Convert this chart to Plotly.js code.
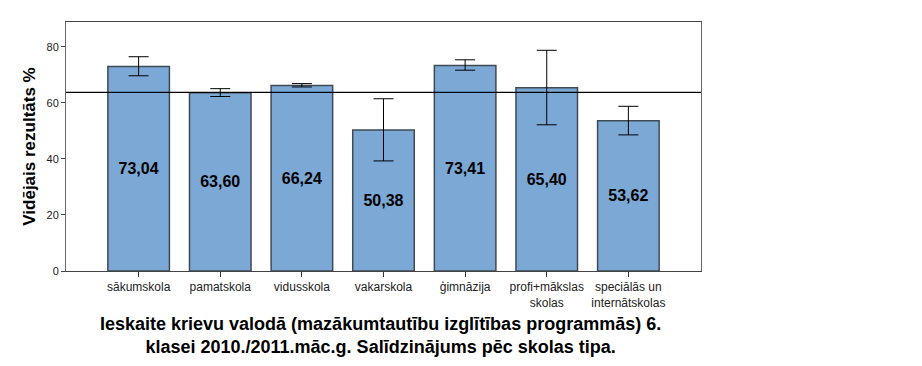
<!DOCTYPE html>
<html>
<head>
<meta charset="utf-8">
<script src="https://cdn.plot.ly/plotly-3.0.1.min.js"></script>
<style>html,body{margin:0;padding:0;background:#fff;}#chart{width:922px;height:366px;}</style>
</head>
<body>
<div id="chart"></div>
<script>
const categories = ["sākumskola", "pamatskola", "vidusskola", "vakarskola", "ģimnāzija", "profi+mākslas<br>skolas", "speciālās un<br>internātskolas"];
const means = [73.04, 63.60, 66.24, 50.38, 73.41, 65.40, 53.62];
const ciUpper = [76.5, 65.1, 66.9, 61.5, 75.4, 78.8, 58.8];
const ciLower = [69.7, 62.3, 65.7, 39.3, 71.7, 52.2, 48.6];
const referenceLine = 63.8;
const yTicks = [0, 20, 40, 60, 80];
const titleText = "Ieskaite krievu valodā (mazākumtautību izglītības programmās) 6.<br>klasei 2010./2011.māc.g. Salīdzinājums pēc skolas tipa.";
const yTitle = "Vidējais rezultāts %";

const FONT = "Arial, 'Liberation Sans', sans-serif";
const idx = categories.map((_, i) => i);

const trace = {
  type: "bar",
  x: idx,
  y: means,
  width: 0.754,
  marker: { color: "#7BA8D5", line: { color: "#3f4a55", width: 1.5 } },
  text: means.map(v => v.toFixed(2).replace(".", ",")),
  textposition: "inside",
  insidetextanchor: "middle",
  textangle: 0,
  textfont: { family: FONT, size: 16, color: "#000", weight: "bold" },
  error_y: {
    type: "data",
    symmetric: false,
    array: ciUpper.map((u, i) => u - means[i]),
    arrayminus: ciLower.map((l, i) => means[i] - l),
    color: "#000",
    thickness: 1,
    width: 10
  },
  hoverinfo: "none"
};

const layout = {
  width: 922,
  height: 366,
  margin: { l: 66, r: 221, t: 22, b: 95 },
  paper_bgcolor: "#fff",
  plot_bgcolor: "#fff",
  showlegend: false,
  font: { family: FONT, size: 11, color: "#222" },
  xaxis: {
    type: "linear",
    range: [-0.89, 6.89],
    tickvals: idx,
    ticktext: categories,
    ticks: "outside",
    ticklen: 5,
    tickcolor: "#333",
    showgrid: false,
    zeroline: false,
    showline: true,
    linecolor: "#444",
    linewidth: 1,
    mirror: true,
    tickfont: { family: FONT, size: 12, color: "#222" }
  },
  yaxis: {
    range: [0, 88.9],
    tickvals: yTicks,
    ticktext: yTicks.map(String),
    ticks: "outside",
    ticklen: 4,
    tickcolor: "#444",
    showgrid: false,
    zeroline: false,
    showline: true,
    linecolor: "#666",
    linewidth: 1,
    mirror: true,
    tickfont: { family: FONT, size: 11, color: "#222" },
    title: { text: yTitle, font: { family: FONT, size: 17, color: "#000", weight: "bold" }, standoff: 6 }
  },
  shapes: [{
    type: "line", xref: "paper", x0: 0, x1: 1, yref: "y", y0: referenceLine, y1: referenceLine,
    line: { color: "#000", width: 1.2 }
  }],
  annotations: [{
    xref: "paper", yref: "paper", x: 0.496, y: -0.259, xanchor: "center", yanchor: "middle",
    showarrow: false, text: titleText, align: "center",
    font: { family: FONT, size: 18, color: "#000", weight: "bold" }
  }]
};

Plotly.newPlot("chart", [trace], layout, { staticPlot: true, displayModeBar: false });
</script>
</body>
</html>
